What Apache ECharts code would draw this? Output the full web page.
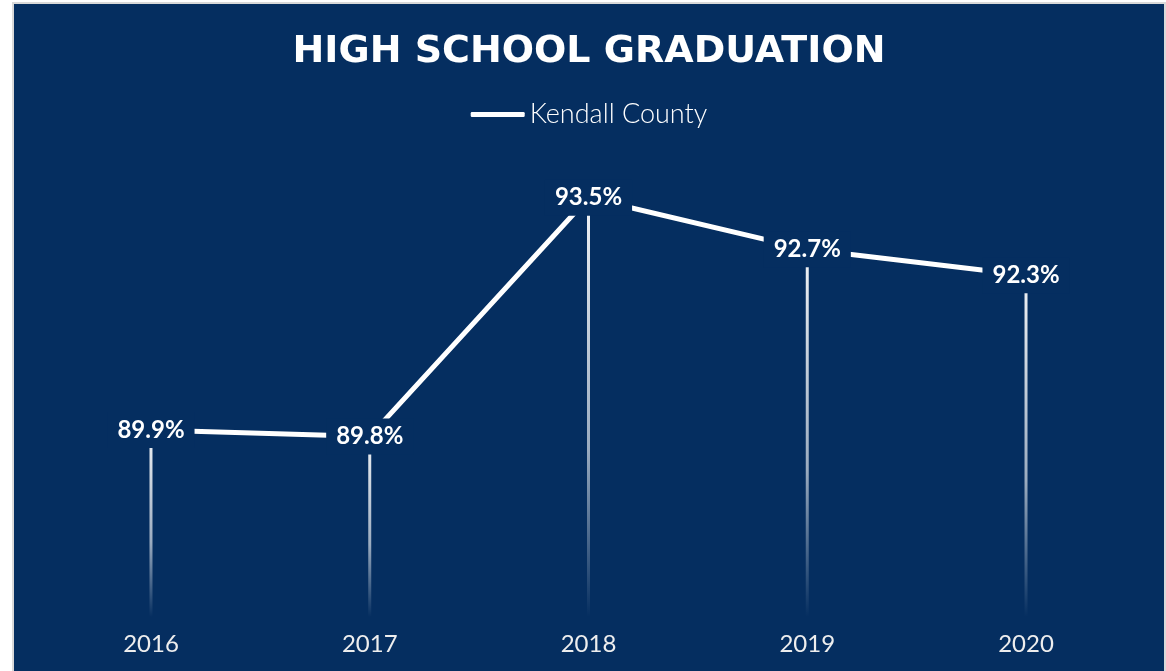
<!DOCTYPE html>
<html>
<head>
<meta charset="utf-8">
<script src="https://cdn.jsdelivr.net/npm/echarts@6/dist/echarts.min.js"></script>
<style>
  html, body { margin: 0; padding: 0; background: #ffffff; width: 1166px; height: 671px; overflow: hidden; }
  #frame { position: absolute; left: 12px; top: 2px; width: 1154px; height: 700px; background: #d9d9d9; }
  #chart { position: absolute; left: 2px; top: 2px; width: 1150px; height: 667px; }
</style>
</head>
<body>
<div id="frame"><div id="chart"></div></div>
<script>
const titleText = 'HIGH SCHOOL GRADUATION';
const seriesName = 'Kendall County';
const categories = ['2016', '2017', '2018', '2019', '2020'];
const values = [89.9, 89.8, 93.5, 92.7, 92.3];

const navy = '#052e60';
const chart = echarts.init(document.getElementById('chart'));
chart.setOption({
  backgroundColor: navy,
  animation: false,
  title: {
    text: titleText,
    left: 'center',
    top: 24,
    textStyle: { color: '#ffffff', fontFamily: 'DejaVu Sans', fontWeight: 'bold', fontSize: 38 }
  },
  legend: {
    data: [seriesName],
    top: 92,
    left: 'center',
    icon: 'roundRect',
    itemWidth: 54,
    itemHeight: 5,
    itemGap: 5,
    textStyle: { color: '#ffffff', fontFamily: 'Lato', fontWeight: 300, fontSize: 27 }
  },
  grid: { left: 27.6, right: 28.6, top: 97, bottom: 54 },
  xAxis: {
    type: 'category',
    data: categories,
    boundaryGap: true,
    axisLine: { show: false },
    axisTick: { show: false },
    axisLabel: { color: '#eeeeee', fontFamily: 'Lato', fontSize: 24, margin: 15 }
  },
  yAxis: {
    type: 'value',
    min: 87,
    max: 95,
    show: false,
    splitLine: { show: false }
  },
  series: [
    {
      name: 'drop',
      type: 'bar',
      data: values,
      barWidth: 3,
      z: 1,
      silent: true,
      itemStyle: {
        color: new echarts.graphic.LinearGradient(0, 0, 0, 1, [
          { offset: 0, color: 'rgba(255,255,255,0.95)' },
          { offset: 0.6, color: 'rgba(255,255,255,0.6)' },
          { offset: 1, color: 'rgba(255,255,255,0.0)' }
        ])
      }
    },
    {
      name: seriesName,
      type: 'line',
      data: values,
      z: 5,
      symbol: 'circle',
      symbolSize: 2,
      itemStyle: { color: '#ffffff' },
      lineStyle: { color: '#ffffff', width: 5 },
      label: {
        show: true,
        position: 'inside',
        formatter: p => p.value.toFixed(1) + '%',
        color: '#ffffff',
        fontFamily: 'Lato',
        fontWeight: 'bold',
        fontSize: 24,
        backgroundColor: navy,
        padding: [6, 10]
      }
    }
  ]
});
</script>
</body>
</html>
